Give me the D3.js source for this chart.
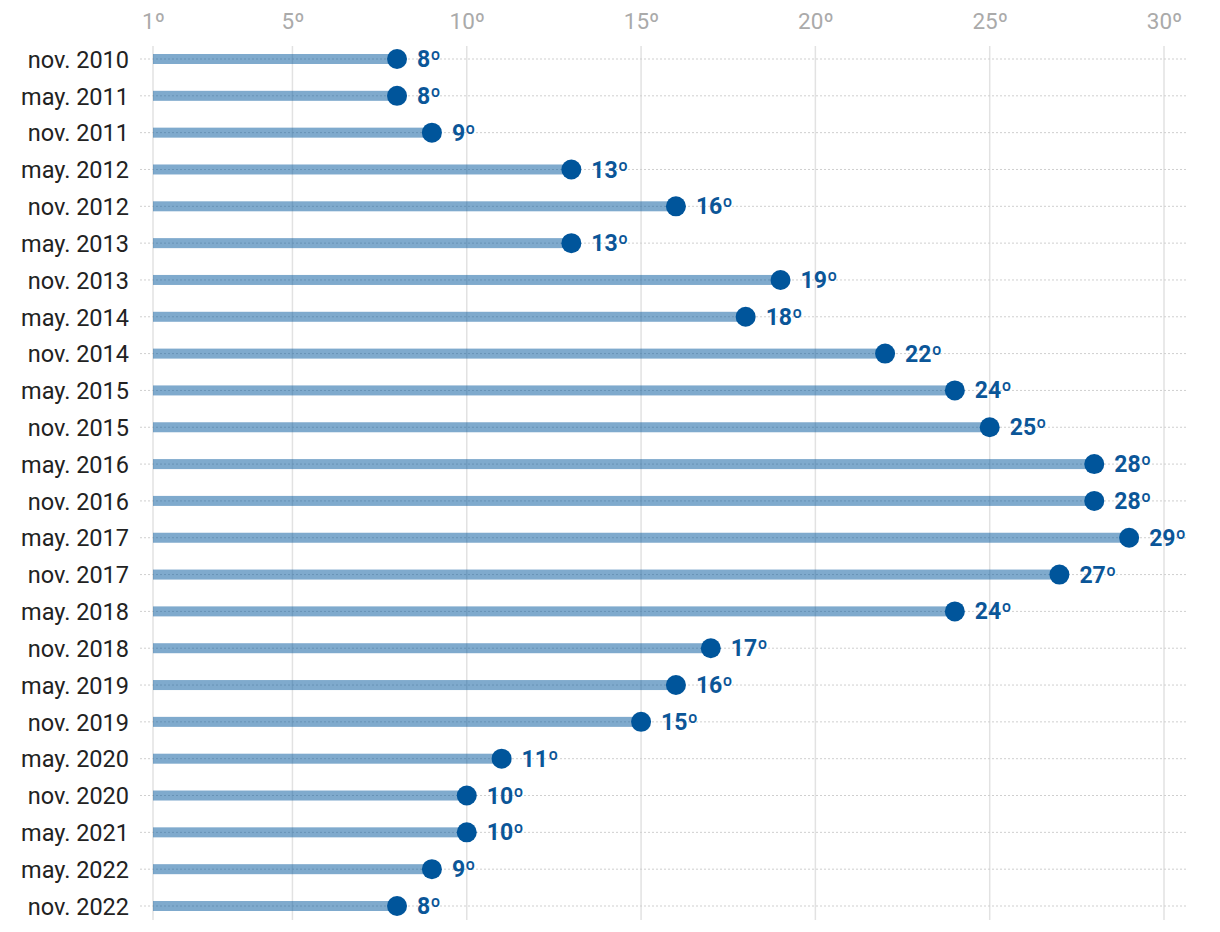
<!DOCTYPE html>
<html><head><meta charset="utf-8">
<script src="https://cdn.jsdelivr.net/npm/d3@7"></script>
<style>body{margin:0;background:#fff}svg{display:block}text{font-family:Roboto,sans-serif}</style>
</head><body><svg id="c" width="1220" height="932"></svg>
<script>
const categories = ["nov. 2010","may. 2011","nov. 2011","may. 2012","nov. 2012","may. 2013","nov. 2013","may. 2014","nov. 2014","may. 2015","nov. 2015","may. 2016","nov. 2016","may. 2017","nov. 2017","may. 2018","nov. 2018","may. 2019","nov. 2019","may. 2020","nov. 2020","may. 2021","may. 2022","nov. 2022"];
const values = [8,8,9,13,16,13,19,18,22,24,25,28,28,29,27,24,17,16,15,11,10,10,9,8];
const tickValues = [1,5,10,15,20,25,30];

const svg = d3.select("#c");
const x = d3.scaleLinear().domain([1,30]).range([153,1164]);
const y = d3.scalePoint().domain(categories).range([59,906]);

// vertical gridlines
svg.append("g").selectAll("line").data(tickValues).join("line")
  .attr("x1",d=>x(d)).attr("x2",d=>x(d)).attr("y1",46).attr("y2",920)
  .attr("stroke","#e2e2e2").attr("stroke-width",1.5);
// tick labels
const ax = svg.append("g").attr("transform","translate(0,21)").call(d3.axisTop(x).tickValues(tickValues).tickSize(0).tickFormat(d=>d+"º"));
ax.select(".domain").remove();
ax.selectAll("text").attr("y",0).attr("dy","0.35em").attr("font-size",22.5).attr("fill","#aaaaaa").attr("font-family","Roboto");

// horizontal dotted lines
svg.append("g").selectAll("line").data(categories).join("line")
  .attr("x1",140).attr("x2",1186).attr("y1",d=>y(d)).attr("y2",d=>y(d))
  .attr("stroke","#cfcfcf").attr("stroke-width",1).attr("stroke-dasharray","2,2");

// category labels
const ay = svg.append("g").attr("transform","translate(129,0)").call(d3.axisLeft(y).tickSize(0).tickPadding(0));
ay.select(".domain").remove();
ay.selectAll("text").attr("font-size",23.5).attr("fill","#222").attr("font-family","Roboto").attr("dy","0.35em");

const data = categories.map((c,i)=>({c,v:values[i]}));
// bars
svg.append("g").selectAll("rect").data(data).join("rect")
  .attr("x",x(1)).attr("y",d=>y(d.c)-5).attr("height",10)
  .attr("width",d=>x(d.v)-x(1)).attr("fill","#00559b").attr("fill-opacity",0.5);
// dots
svg.append("g").selectAll("circle").data(data).join("circle")
  .attr("cx",d=>x(d.v)).attr("cy",d=>y(d.c)).attr("r",10).attr("fill","#00559b");
// value labels
svg.append("g").selectAll("text").data(data).join("text")
  .attr("x",d=>x(d.v)+20).attr("y",d=>y(d.c)).attr("dy","0.35em")
  .attr("font-size",23).attr("font-weight","bold").attr("fill","#0b5698")
  .text(d=>d.v+"º");
</script></body></html>
